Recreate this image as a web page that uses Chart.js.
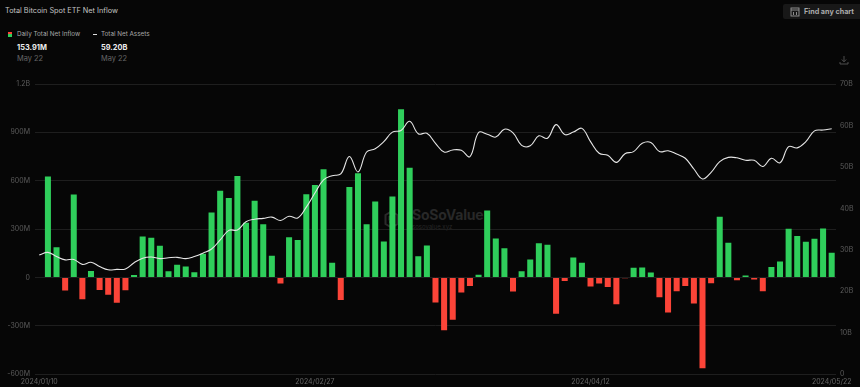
<!DOCTYPE html>
<html>
<head>
<meta charset="utf-8">
<title>Total Bitcoin Spot ETF Net Inflow</title>
<script src="https://cdn.jsdelivr.net/npm/chart.js@4"></script>
<style>
  html, body { margin: 0; padding: 0; background: #060606; }
  body { position: relative; width: 860px; height: 387px; overflow: hidden; font-family: Inter, Roboto, sans-serif; }
  canvas { position: absolute; left: 0; top: 0; }
  .txt { position: absolute; white-space: nowrap; line-height: 1; }
  .head { left: 5px; top: 7px; font-size: 7.3px; color: #c4c4c4; }
  .leg { top: 31px; font-size: 6.3px; color: #a8a8a8; }
  .val { top: 44px; font-size: 7.4px; font-weight: 700; color: #eee; }
  .day { top: 55px; font-size: 7.4px; color: #666; }
  .swatch { position: absolute; left: 8px; top: 32px; width: 4px; height: 5px; background: linear-gradient(#fb4438 50%, #2fce5b 50%); }
  .dash { position: absolute; left: 93px; top: 33.5px; width: 4px; height: 1.5px; background: #ddd; }
  .btn { position: absolute; left: 783px; top: 4px; width: 77px; height: 15px; background: #181818; border-radius: 2px 0 0 2px; }
  .btn span { position: absolute; left: 21px; top: 4px; font-size: 7.2px; line-height: 1; font-weight: 700; color: #aaa; white-space: nowrap; }
  .btn svg { position: absolute; left: 7px; top: 2.5px; }
  .mark { left: 412px; top: 208px; font-size: 14px; font-weight: 700; color: #282828; letter-spacing: -0.2px; }
  .mark2 { left: 412px; top: 224px; font-size: 6px; color: #262626; }
  .logo { position: absolute; left: 384px; top: 210px; }
  .save { position: absolute; left: 839px; top: 55px; }
</style>
</head>
<body>
<div class="txt head">Total Bitcoin Spot ETF Net Inflow</div>
<div class="swatch"></div>
<div class="txt leg" style="left:17px">Daily Total Net Inflow</div>
<div class="dash"></div>
<div class="txt leg" style="left:101px">Total Net Assets</div>
<div class="txt val" style="left:17px">153.91M</div>
<div class="txt val" style="left:101px">59.20B</div>
<div class="txt day" style="left:17px">May 22</div>
<div class="txt day" style="left:101px">May 22</div>
<div class="btn">
  <svg width="10" height="10" viewBox="0 0 10 10" fill="none" stroke="#999" stroke-width="0.9"><rect x="1" y="1" width="8" height="8"/><path d="M1 3h8M3.5 5v3M6.5 5v3"/></svg>
  <span>Find any chart</span>
</div>
<svg class="save" width="10" height="10" viewBox="0 0 10 10" fill="none" stroke="#555" stroke-width="0.9"><path d="M5 1v5.5M2.8 4.5L5 6.8l2.2-2.3M1 7v2h8V7"/></svg>
<svg class="logo" width="15" height="19" viewBox="0 0 15 19" fill="none" stroke="#2a2a2a" stroke-width="2"><path d="M7.5 1.5l6 3.5v9l-6 3.5-6-3.5V5z"/><path d="M10 7H5.5v2.5h4V12H5"/></svg>
<div class="txt mark">SoSoValue</div>
<div class="txt mark2">sosovalue.xyz</div>
<canvas id="etfChart" width="860" height="387"></canvas>

<script>
// trading days shown on the x axis
const dates = [
  '2024/01/10','2024/01/11','2024/01/12','2024/01/16','2024/01/17','2024/01/18','2024/01/19','2024/01/22','2024/01/23','2024/01/24',
  '2024/01/25','2024/01/26','2024/01/29','2024/01/30','2024/01/31','2024/02/01','2024/02/02','2024/02/05','2024/02/06','2024/02/07',
  '2024/02/08','2024/02/09','2024/02/12','2024/02/13','2024/02/14','2024/02/15','2024/02/16','2024/02/20','2024/02/21','2024/02/22',
  '2024/02/23','2024/02/26','2024/02/27','2024/02/28','2024/02/29','2024/03/01','2024/03/04','2024/03/05','2024/03/06','2024/03/07',
  '2024/03/08','2024/03/11','2024/03/12','2024/03/13','2024/03/14','2024/03/15','2024/03/18','2024/03/19','2024/03/20','2024/03/21',
  '2024/03/22','2024/03/25','2024/03/26','2024/03/27','2024/03/28','2024/04/01','2024/04/02','2024/04/03','2024/04/04','2024/04/05',
  '2024/04/08','2024/04/09','2024/04/10','2024/04/11','2024/04/12','2024/04/15','2024/04/16','2024/04/17','2024/04/18','2024/04/19',
  '2024/04/22','2024/04/23','2024/04/24','2024/04/25','2024/04/26','2024/04/29','2024/04/30','2024/05/01','2024/05/02','2024/05/03',
  '2024/05/06','2024/05/07','2024/05/08','2024/05/09','2024/05/10','2024/05/13','2024/05/14','2024/05/15','2024/05/16','2024/05/17',
  '2024/05/20','2024/05/21','2024/05/22'
];
const shownDates = ['2024/01/10', '2024/02/27', '2024/04/12', '2024/05/22'];

// daily net inflow, in millions (nothing on the first day)
const netInflow = [
  null, 627, 188, -81, 515, -135, 41, -77, -106, -157,
  -79, 15, 255, 246, 197, 39, 79, 68, 33, 147,
  404, 538, 493, 629, 339, 476, 331, 135, -37, 250,
  232, 517, 573, 671, 91, -139, 561, 646, 331, 472,
  224, 503, 1043, 681, 132, 199, -155, -327, -261, -93,
  -52, 17, 416, 242, 182, -87, 39, 112, 213, 203,
  -224, -21, 124, 91, -56, -37, -58, -166, -5, 60,
  62, 31, -122, -217, -85, -52, -161, -563, -35, 377,
  215, -17, 12, -12, -85, 66, 99, 302, 257, 222,
  240, 304, 153.91
];

// total net assets, in billions
const netAssets = [
  28.8, 29.4, 28.4, 27.6, 27.7, 26.5, 27.0, 26.0, 25.2, 25.3,
  25.4, 26.9, 28.0, 28.3, 27.9, 28.1, 28.2, 27.9, 28.4, 29.2,
  30.2, 32.4, 34.7, 34.8, 36.8, 37.4, 37.6, 37.9, 37.1, 38.1,
  37.7, 40.3, 43.7, 46.9, 47.9, 48.3, 52.5, 48.8, 53.6, 54.4,
  56.1, 58.4, 58.8, 61.0, 58.0, 58.1, 55.7, 53.6, 54.1, 54.0,
  52.5, 58.3, 57.9, 57.2, 59.1, 58.2, 55.2, 55.1, 57.5, 56.9,
  60.2, 57.8, 58.4, 59.3, 56.1, 53.3, 52.8, 51.1, 53.2, 53.7,
  55.7, 55.9, 53.7, 53.9, 53.1, 52.1, 49.5, 47.1, 48.7, 51.3,
  52.3, 52.2, 51.6, 51.6, 50.1, 52.1, 51.0, 54.9, 54.6, 56.1,
  58.7, 58.9, 59.2
];

const GREEN = '#2fce5b';
const RED = '#fb4438';
const tickFont = { family: 'Inter, Roboto, sans-serif', size: 7 };

const ctx = document.getElementById('etfChart').getContext('2d');
const etfChart = new Chart(ctx, {
  data: {
    labels: dates,
    datasets: [
      {
        type: 'line',
        label: 'Total Net Assets',
        data: netAssets,
        yAxisID: 'assets',
        borderColor: '#e6e6e6',
        borderWidth: 1.1,
        pointRadius: 0,
        tension: 0.4,
        order: 0
      },
      {
        type: 'bar',
        label: 'Daily Total Net Inflow',
        data: netInflow,
        yAxisID: 'inflow',
        backgroundColor: c => (c.raw < 0 ? RED : GREEN),
        categoryPercentage: 1,
        barPercentage: 0.7,
        order: 1
      }
    ]
  },
  options: {
    responsive: false,
    animation: false,
    layout: { padding: { top: 84, right: 0, bottom: 0, left: 0 } },
    plugins: { legend: { display: false }, tooltip: { enabled: false } },
    scales: {
      x: {
        grid: { display: false, drawTicks: false },
        border: { display: false },
        afterFit: s => { s.height = 12.7; },
        ticks: {
          autoSkip: false,
          maxRotation: 0,
          padding: 3,
          color: '#666',
          font: tickFont,
          callback: function (v) {
            const d = this.getLabelForValue(v);
            return shownDates.includes(d) ? d : '';
          }
        }
      },
      inflow: {
        position: 'left',
        min: -600,
        max: 1200,
        afterFit: s => { s.width = 35; },
        grid: { color: '#1e1e1e', lineWidth: 1, drawTicks: false },
        border: { display: false },
        ticks: {
          stepSize: 300,
          padding: 5,
          color: '#5c5c5c',
          font: tickFont,
          callback: v => (v === 1200 ? '1.2B' : v === 0 ? '0' : v + 'M')
        }
      },
      assets: {
        position: 'right',
        min: 0,
        max: 70,
        afterFit: s => { s.width = 24; },
        grid: { display: false, drawTicks: false },
        border: { display: false },
        ticks: {
          stepSize: 10,
          padding: 4,
          color: '#5c5c5c',
          font: tickFont,
          callback: v => (v === 0 ? '0' : v + 'B')
        }
      }
    }
  }
});
</script>
</body>
</html>
